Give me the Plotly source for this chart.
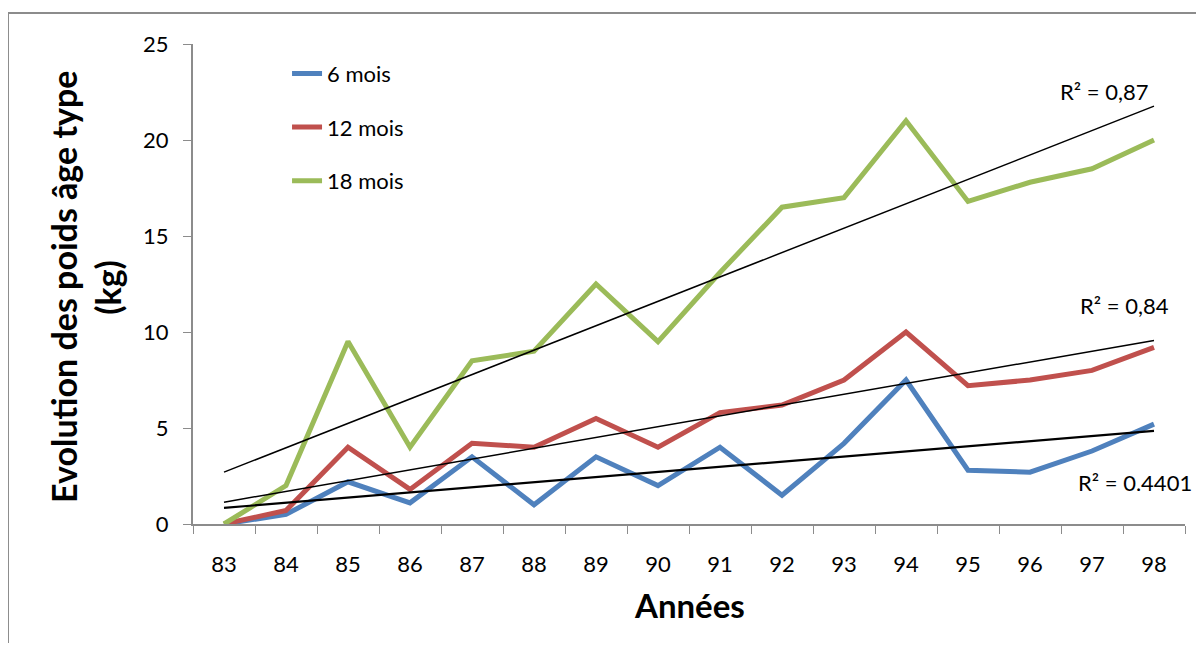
import numpy as np
import plotly.graph_objects as go

years = ["83", "84", "85", "86", "87", "88", "89", "90", "91", "92", "93", "94", "95", "96", "97", "98"]
mois6 = [0, 0.5, 2.2, 1.1, 3.5, 1.0, 3.5, 2.0, 4.0, 1.5, 4.2, 7.5, 2.8, 2.7, 3.8, 5.2]
mois12 = [0, 0.7, 4.0, 1.8, 4.2, 4.0, 5.5, 4.0, 5.8, 6.2, 7.5, 10.0, 7.2, 7.5, 8.0, 9.2]
mois18 = [0, 2.0, 9.5, 4.0, 8.5, 9.0, 12.5, 9.5, 13.1, 16.5, 17.0, 21.0, 16.8, 17.8, 18.5, 20.0]
series_names = ["6 mois", "12 mois", "18 mois"]
colors = ["#4F81BD", "#C0504D", "#9BBB59"]
r2_labels = ["R² = 0.4401", "R² = 0,84", "R² = 0,87"]
y_title_lines = ["Evolution des poids âge type", "(kg)"]
x_title = "Années"

FONT = "Lato"
fig = go.Figure()
idx = np.arange(len(years))
for name, vals, col in zip(series_names, [mois6, mois12, mois18], colors):
    fig.add_trace(go.Scatter(x=years, y=vals, mode="lines", name=name,
                             legendgroup=name,
                             line=dict(color=col, width=5)))

for vals, w in zip([mois6, mois12, mois18], [2.2, 1.5, 1.5]):
    a, b = np.polyfit(idx, np.array(vals, dtype=float), 1)
    fig.add_trace(go.Scatter(x=years, y=a * idx + b, mode="lines", showlegend=False,
                             line=dict(color="black", width=w), hoverinfo="skip"))

# R² labels
for txt, px, py in zip(r2_labels, [0.890, 0.892, 0.872], [0.0875, 0.456, 0.9]):
    fig.add_annotation(x=px, y=py, xref="paper", yref="paper", text=txt,
                       showarrow=False, xanchor="left", yanchor="middle",
                       font=dict(size=22, color="black", family=FONT))

# axis titles
for txt, px in zip(y_title_lines, [-0.130, -0.0857]):
    fig.add_annotation(x=px, y=0.494, xref="paper", yref="paper",
                       text="<b>" + txt + "</b>", textangle=-90,
                       showarrow=False, xanchor="center", yanchor="middle",
                       font=dict(size=34, color="black", family=FONT))
fig.add_annotation(x=0.5, y=-0.168, xref="paper", yref="paper",
                   text="<b>" + x_title + "</b>", showarrow=False, xanchor="center", yanchor="middle",
                   font=dict(size=33, color="black", family=FONT))

# outer frame (left and top edges)
fig.add_shape(type="line", xref="paper", yref="paper", x0=-0.1865, x1=-0.1865, y0=-0.3, y1=1.0646,
              line=dict(color="#8c8c8c", width=2))
fig.add_shape(type="line", xref="paper", yref="paper", x0=-0.1865, x1=1.05, y0=1.0646, y1=1.0646,
              line=dict(color="#8c8c8c", width=2))

fig.update_layout(
    width=1188, height=635,
    margin=dict(l=185, r=11, t=36, b=119),
    plot_bgcolor="white", paper_bgcolor="white",
    font=dict(family=FONT, size=22, color="black"),
    showlegend=True,
    legend=dict(x=0.0948, y=0.982, xanchor="left", yanchor="top", tracegroupgap=22,
                font=dict(size=22, family=FONT), bgcolor="rgba(0,0,0,0)"),
    xaxis=dict(type="category", range=[-0.5, 15.5], tickson="boundaries", ticks="outside",
               ticklen=8, tickcolor="#8c8c8c", showline=True, linecolor="#8c8c8c", linewidth=2,
               showgrid=False, zeroline=False, ticklabelstandoff=20, tickfont=dict(size=22)),
    yaxis=dict(range=[0, 25], dtick=5, ticks="outside", ticklen=8, tickcolor="#8c8c8c",
               showline=True, linecolor="#8c8c8c", linewidth=2, showgrid=False, zeroline=False,
               ticklabelstandoff=10, tickfont=dict(size=22)),
)

fig.write_html("out.html")
